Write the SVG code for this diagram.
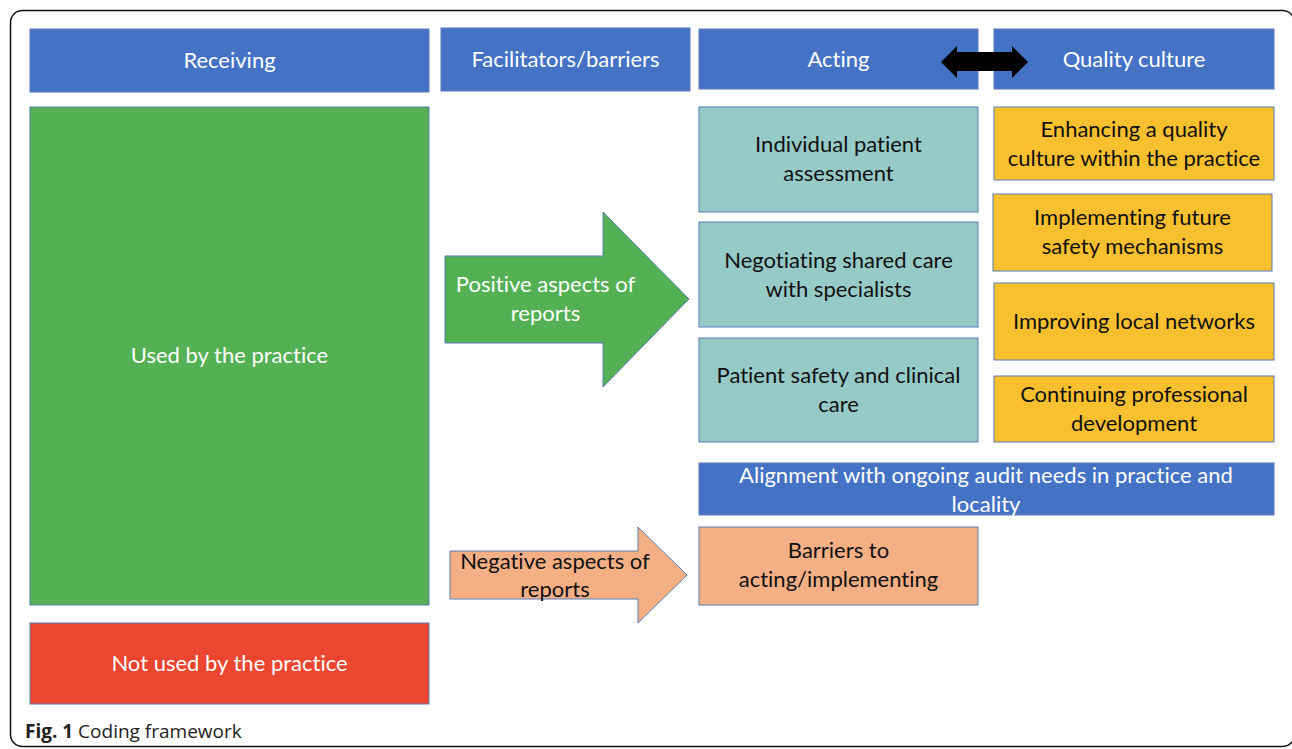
<svg xmlns="http://www.w3.org/2000/svg" width="1292" height="749" viewBox="0 0 1292 749">
<style>
.box{stroke:#5B7DB8;stroke-width:1}
.blue{fill:#4472C4}
.green{fill:#53B153}
.red{fill:#EC4530}
.teal{fill:#96CAC6}
.yellow{fill:#F8BF2F}
.salmon{fill:#F4AF84}
text{font-family:Lato,"Open Sans","Liberation Sans",sans-serif;font-size:22px;text-anchor:middle;font-variant-ligatures:none}
.w{fill:#FFFFFF}
.k{fill:#111111}
.cap{font-family:"Open Sans","Liberation Sans",sans-serif;font-size:19px;text-anchor:start;fill:#222}
</style>
<rect x="10.5" y="10.5" width="1284" height="736" rx="12" fill="none" stroke="#111" stroke-width="1.5"/>
<g id="receiving"><rect class="box blue" x="30" y="29" width="399" height="63"/><text class="w" x="229.5" y="68">Receiving</text></g>
<g id="facilitators"><rect class="box blue" x="441" y="28" width="249" height="63"/><text class="w" x="565.5" y="67">Facilitators/barriers</text></g>
<g id="acting"><rect class="box blue" x="699" y="29" width="279" height="60"/><text class="w" x="838.5" y="67">Acting</text></g>
<g id="quality"><rect class="box blue" x="994" y="29" width="280" height="60"/><text class="w" x="1134" y="67">Quality culture</text></g>
<g id="used"><rect class="box green" x="30" y="107" width="399" height="498"/><text class="w" x="229.5" y="363">Used by the practice</text></g>
<g id="notused"><rect class="box red" x="30" y="623" width="399" height="81"/><text class="w" x="229.5" y="671">Not used by the practice</text></g>
<g id="positive"><polygon class="box green" points="445,256 603,256 603,212 689,299 603,387 603,343 445,343"/><text class="w" x="545.5" y="292">Positive aspects of</text><text class="w" x="545.5" y="321">reports</text></g>
<g id="negative"><polygon class="box salmon" points="450,551 638,551 638,527 687,575 638,623 638,599 450,599"/><text class="k" x="555" y="569">Negative aspects of</text><text class="k" x="555" y="597">reports</text></g>
<g id="individual"><rect class="box teal" x="699" y="107" width="279" height="105"/><text class="k" x="838.5" y="152">Individual patient</text><text class="k" x="838.5" y="181">assessment</text></g>
<g id="negotiating"><rect class="box teal" x="699" y="222" width="279" height="105"/><text class="k" x="838.5" y="268">Negotiating shared care</text><text class="k" x="838.5" y="297">with specialists</text></g>
<g id="patientsafety"><rect class="box teal" x="699" y="338" width="279" height="104"/><text class="k" x="838.5" y="383">Patient safety and clinical</text><text class="k" x="838.5" y="412">care</text></g>
<g id="enhancing"><rect class="box yellow" x="994" y="107" width="280" height="73"/><text class="k" x="1134" y="137">Enhancing a quality</text><text class="k" x="1134" y="166">culture within the practice</text></g>
<g id="implementing"><rect class="box yellow" x="993" y="194" width="279" height="77"/><text class="k" x="1132.5" y="225">Implementing future</text><text class="k" x="1132.5" y="254">safety mechanisms</text></g>
<g id="improving"><rect class="box yellow" x="994" y="283" width="280" height="77"/><text class="k" x="1134" y="329">Improving local networks</text></g>
<g id="cpd"><rect class="box yellow" x="994" y="376" width="280" height="66"/><text class="k" x="1134" y="402">Continuing professional</text><text class="k" x="1134" y="431">development</text></g>
<g id="alignment"><rect class="box blue" x="699" y="463" width="575" height="52"/><text class="w" x="986" y="483">Alignment with ongoing audit needs in practice and</text><text class="w" x="986" y="512">locality</text></g>
<g id="barriers"><rect class="box salmon" x="699" y="527" width="279" height="78"/><text class="k" x="838.5" y="558">Barriers to</text><text class="k" x="838.5" y="587">acting/implementing</text></g>
<g id="connectors"><polygon fill="#000" points="941,62 957,46 957,52 1012,52 1012,46 1028,62 1012,78 1012,71 957,71 957,78"/></g>
<text class="cap" x="25" y="738"><tspan font-weight="bold">Fig. 1</tspan> Coding framework</text>
</svg>
